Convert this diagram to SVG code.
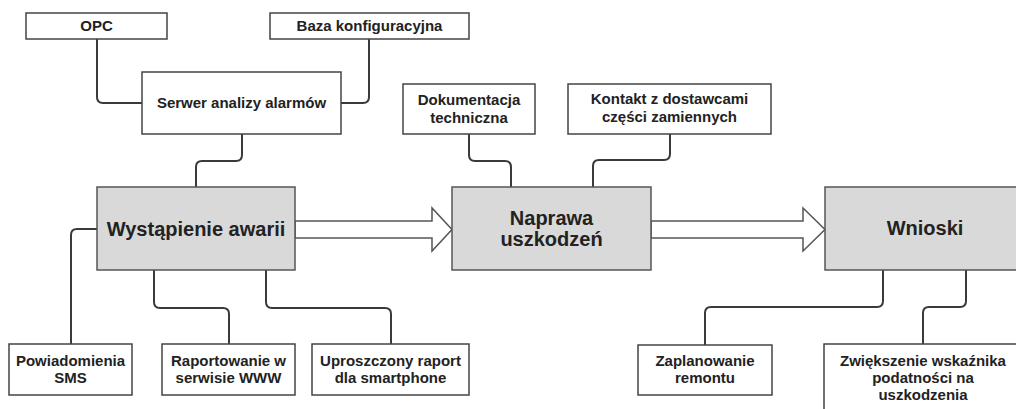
<svg xmlns="http://www.w3.org/2000/svg" width="1016" height="409" viewBox="0 0 1016 409">
<style>
.box{fill:#ffffff;stroke:#444444;stroke-width:1.5}
.main{fill:#d9d9d9;stroke:#555555;stroke-width:1.5}
.arrow{fill:#ffffff;stroke:#555555;stroke-width:1.5;stroke-linejoin:miter}
.conn{fill:none;stroke:#3a3a3a;stroke-width:2}
text{font-family:"Liberation Sans",Arial,sans-serif;font-weight:bold;fill:#222222;text-anchor:middle}
.s{font-size:15px}
.l{font-size:20px}
</style>
<rect width="1016" height="409" fill="#ffffff"/>
<g id="connectors">
<path class="conn" d="M97 39 V97 Q97 103 103 103 H142"/>
<path class="conn" d="M369 39 V97 Q369 103 363 103 H341"/>
<path class="conn" d="M242 134 V155 Q242 161 236 161 H202 Q196 161 196 167 V187"/>
<path class="conn" d="M97 229 H77 Q71 229 71 235 V344"/>
<path class="conn" d="M154 270 V302 Q154 308 160 308 H223 Q229 308 229 314 V344"/>
<path class="conn" d="M266 270 V302 Q266 308 272 308 H385 Q391 308 391 314 V344"/>
<path class="conn" d="M469 134 V155 Q469 161 475 161 H505 Q511 161 511 167 V187"/>
<path class="conn" d="M670 134 V154 Q670 160 664 160 H599 Q593 160 593 166 V187"/>
<path class="conn" d="M883 270 V301 Q883 307 877 307 H711 Q705 307 705 313 V345"/>
<path class="conn" d="M966 270 V301 Q966 307 960 307 H929 Q923 307 923 313 V344"/>
<polygon class="arrow" points="295,221 432,221 432,208 452,229.5 432,251 432,238 295,238"/>
<polygon class="arrow" points="651,221 803,221 803,208 825,229.5 803,251 803,238 651,238"/>
</g>
<g id="opc"><rect class="box" x="26" y="13" width="141" height="26"/><text class="s" x="96.5" y="31">OPC</text></g>
<g id="baza"><rect class="box" x="270" y="13" width="199" height="26"/><text class="s" x="369.5" y="31">Baza konfiguracyjna</text></g>
<g id="serwer"><rect class="box" x="142" y="72" width="199" height="62"/><text class="s" x="241.5" y="108">Serwer analizy alarmów</text></g>
<g id="dokumentacja"><rect class="box" x="403" y="84" width="132" height="50"/><text class="s" x="469" y="105">Dokumentacja</text><text class="s" x="469" y="123">techniczna</text></g>
<g id="kontakt"><rect class="box" x="568" y="84" width="203" height="50"/><text class="s" x="669.5" y="104">Kontakt z dostawcami</text><text class="s" x="669.5" y="122">części zamiennych</text></g>
<g id="wystapienie"><rect class="main" x="97" y="187" width="198" height="83"/><text class="l" x="196" y="236">Wystąpienie awarii</text></g>
<g id="naprawa"><rect class="main" x="452" y="187" width="199" height="83"/><text class="l" x="551.5" y="225">Naprawa</text><text class="l" x="551.5" y="246">uszkodzeń</text></g>
<g id="wnioski"><rect class="main" x="825" y="187" width="200" height="83"/><text class="l" x="925" y="235">Wnioski</text></g>
<g id="sms"><rect class="box" x="9" y="344" width="123" height="51"/><text class="s" x="70.5" y="366">Powiadomienia</text><text class="s" x="70.5" y="383">SMS</text></g>
<g id="www"><rect class="box" x="162" y="344" width="133" height="51"/><text class="s" x="228.5" y="366">Raportowanie w</text><text class="s" x="228.5" y="383">serwisie WWW</text></g>
<g id="smartphone"><rect class="box" x="312" y="344" width="157" height="51"/><text class="s" x="390.5" y="366">Uproszczony raport</text><text class="s" x="390.5" y="383">dla smartphone</text></g>
<g id="remont"><rect class="box" x="638" y="345" width="134" height="50"/><text class="s" x="705" y="366">Zaplanowanie</text><text class="s" x="705" y="383">remontu</text></g>
<g id="wskaznik"><rect class="box" x="824" y="344" width="198" height="80"/><text class="s" x="923" y="366">Zwiększenie wskaźnika</text><text class="s" x="923" y="383">podatności na</text><text class="s" x="923" y="400">uszkodzenia</text></g>
</svg>
